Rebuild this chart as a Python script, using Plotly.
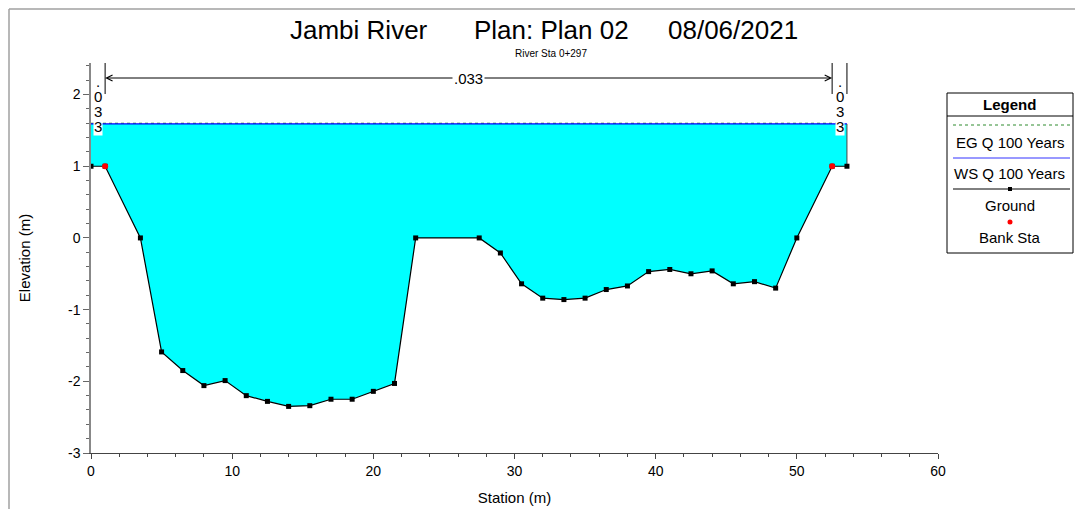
import plotly.graph_objects as go

# ---- data ----
stations = [0.0, 1.0, 3.5, 5.0, 6.5, 8.0, 9.5, 11.0, 12.5, 14.0, 15.5, 17.0, 18.5, 20.0,
            21.5, 23.0, 27.5, 29.0, 30.5, 32.0, 33.5, 35.0, 36.5, 38.0, 39.5, 41.0,
            42.5, 44.0, 45.5, 47.0, 48.5, 50.0, 52.5, 53.55]
ground = [1.0, 1.0, 0.0, -1.59, -1.85, -2.06, -1.99, -2.20, -2.28, -2.35, -2.34, -2.25,
          -2.25, -2.14, -2.03, 0.0, 0.0, -0.21, -0.64, -0.84, -0.86, -0.84, -0.72,
          -0.67, -0.47, -0.44, -0.50, -0.46, -0.64, -0.61, -0.70, 0.0, 1.0, 1.0]
bank_stations = [1.0, 52.5]
bank_elev = [1.0, 1.0]
ws_elev = 1.59
eg_elev = 1.60
n_breaks = [0.0, 1.0, 52.5, 53.55]
n_values = [".033", ".033", ".033"]

x_tickvals = [0, 10, 20, 30, 40, 50, 60]
x_ticktext = ["0", "10", "20", "30", "40", "50", "60"]
y_tickvals = [-3, -2, -1, 0, 1, 2]
y_ticktext = ["-3", "-2", "-1", "0", "1", "2"]

title_parts = ["Jambi River", "Plan: Plan 02", "08/06/2021"]
subtitle = "River Sta 0+297"
legend_items = ["EG Q 100 Years", "WS Q 100 Years", "Ground", "Bank Sta"]

# page is offset by the body margin
OFF = 8
W, H = 1083 - OFF, 509 - OFF
L, R, T, B = 91 - OFF, 145, 63 - OFF, 56
PW, PH = W - L - R, H - T - B
YMIN, YMAX = -3.0, 2.44


def px(xpage):
    return (xpage - OFF - L) / PW


def py(ypage):
    return (H - B - (ypage - OFF)) / PH


def ey(ypage):  # page pixel -> elevation
    return YMIN + py(ypage) * (YMAX - YMIN)


font = "Liberation Sans, Arial, sans-serif"
fig = go.Figure()

x0, x1 = stations[0], stations[-1]
fig.add_trace(go.Scatter(x=[x0] + stations + [x1], y=[ws_elev] + ground + [ws_elev],
                         fill="toself", fillcolor="#00FFFF", mode="lines",
                         line=dict(width=0), hoverinfo="skip", showlegend=False))
fig.add_trace(go.Scatter(x=[x0, x1], y=[eg_elev, eg_elev], mode="lines",
                         line=dict(color="#2e8b2e", width=1, dash="dot"), showlegend=False))
fig.add_trace(go.Scatter(x=[x0, x1], y=[ws_elev, ws_elev], mode="lines",
                         line=dict(color="#0000FF", width=1.3), showlegend=False))
fig.add_trace(go.Scatter(x=[x1, x1], y=[ground[-1], ws_elev], mode="lines",
                         line=dict(color="#444444", width=1), showlegend=False))
fig.add_trace(go.Scatter(x=stations, y=ground, mode="lines+markers",
                         line=dict(color="black", width=1.2),
                         marker=dict(symbol="square", size=5, color="black"), showlegend=False))
fig.add_trace(go.Scatter(x=bank_stations, y=bank_elev, mode="markers",
                         marker=dict(symbol="circle", size=6, color="#FF0000"), showlegend=False))

shapes = []
annotations = []


def ann(x, y, text, size, **kw):
    d = dict(x=x, y=y, xref="paper", yref="paper", text=text, showarrow=False,
             xanchor="center", yanchor="middle",
             font=dict(family=font, size=size, color="black"))
    d.update(kw)
    annotations.append(d)


# Manning's n markers
bar_top, bar_bot = YMAX, ey(94)
for xb in n_breaks[1:]:
    shapes.append(dict(type="line", xref="x", yref="y", x0=xb, x1=xb, y0=bar_bot, y1=bar_top,
                       line=dict(color="black", width=1)))
arrow_y = ey(78)
mid = (n_breaks[1] + n_breaks[2]) / 2
for end in (n_breaks[1], n_breaks[2]):
    annotations.append(dict(x=end, y=arrow_y, ax=mid, ay=arrow_y, xref="x", yref="y",
                            axref="x", ayref="y", text="", showarrow=True, arrowhead=5,
                            arrowsize=1.2, arrowwidth=1, arrowcolor="black"))
annotations.append(dict(x=mid, y=arrow_y, xref="x", yref="y", text=n_values[1], showarrow=False,
                        xanchor="center", yanchor="middle", bgcolor="white",
                        font=dict(family=font, size=15, color="black"), borderpad=1))
for seg in (0, 2):
    xc = (n_breaks[seg] + n_breaks[seg + 1]) / 2
    for i, ch in enumerate(n_values[seg]):
        d = dict(x=xc, y=ey(81 + 15 * i), xref="x", yref="y", text=ch, showarrow=False,
                 xanchor="center", yanchor="middle",
                 font=dict(family=font, size=15, color="black"), borderpad=0)
        if i == len(n_values[seg]) - 1:
            d["bgcolor"] = "white"
        annotations.append(d)

# titles
for txt, cx in zip(title_parts, [359, 551, 733]):
    ann(px(cx), py(30), txt, 26)
ann(px(551), py(53), subtitle, 10)

# outer frame (left & top edges)
shapes.append(dict(type="line", xref="paper", yref="paper", x0=px(9), x1=px(9), y0=py(9), y1=py(530),
                   line=dict(color="#a0a0a0", width=1.5)))
shapes.append(dict(type="line", xref="paper", yref="paper", x0=px(9), x1=px(1100), y0=py(9), y1=py(9),
                   line=dict(color="#a0a0a0", width=1.5)))

# legend box
lx0, lx1, ly0, ly1 = 947, 1073, 93, 253
shapes.append(dict(type="rect", xref="paper", yref="paper", x0=px(lx0), x1=px(lx1), y0=py(ly0), y1=py(ly1),
                   line=dict(color="black", width=1), fillcolor="white"))
shapes.append(dict(type="line", xref="paper", yref="paper", x0=px(lx0), x1=px(lx1), y0=py(116), y1=py(116),
                   line=dict(color="black", width=1)))
lcx = (lx0 + lx1) / 2
ann(px(lcx), py(105), "<b>Legend</b>", 15)
samples = [(125, "#2e8b2e", "dot"), (158, "#3333ff", "solid"), (189, "black", "solid")]
for (yy, col, dash) in samples:
    shapes.append(dict(type="line", xref="paper", yref="paper", x0=px(lx0 + 6), x1=px(lx1 - 3),
                       y0=py(yy), y1=py(yy), line=dict(color=col, width=1, dash=dash)))
shapes.append(dict(type="rect", xref="paper", yref="paper", x0=px(lcx - 2), x1=px(lcx + 2),
                   y0=py(187), y1=py(191), line=dict(width=0), fillcolor="black"))
shapes.append(dict(type="circle", xref="paper", yref="paper", x0=px(lcx - 2.5), x1=px(lcx + 2.5),
                   y0=py(219.5), y1=py(224.5), line=dict(width=0), fillcolor="#FF0000"))
for txt, yy in zip(legend_items, [142, 173, 205, 237]):
    ann(px(lcx), py(yy), txt, 15)

fig.update_layout(
    width=W, height=H, margin=dict(l=L, r=R, t=T, b=B, autoexpand=False),
    paper_bgcolor="white", plot_bgcolor="white",
    showlegend=False, shapes=shapes, annotations=annotations,
    font=dict(family=font, size=14, color="black"),
    xaxis=dict(range=[0, 60], tickvals=x_tickvals, ticktext=x_ticktext, automargin=False,
               showgrid=False, zeroline=False,
               showline=True, linecolor="#444444", linewidth=1.2,
               ticks="outside", ticklen=5, tickcolor="#444444",
               minor=dict(dtick=2, tick0=0, ticks="outside", ticklen=3, tickcolor="#444444"),
               tickfont=dict(family=font, size=14),
               title=dict(text="Station (m)", font=dict(family=font, size=15), standoff=14)),
    yaxis=dict(range=[YMIN, YMAX], tickvals=y_tickvals, ticktext=y_ticktext, automargin=False,
               showgrid=False, zeroline=False,
               showline=True, linecolor="#888888", linewidth=1.5,
               ticks="outside", ticklen=6, tickcolor="#666666",
               minor=dict(dtick=0.2, tick0=0, ticks="outside", ticklen=3, tickcolor="#666666"),
               tickfont=dict(family=font, size=14),
               title=dict(text="Elevation (m)", font=dict(family=font, size=15), standoff=34)),
)

fig.write_html("out.html")
